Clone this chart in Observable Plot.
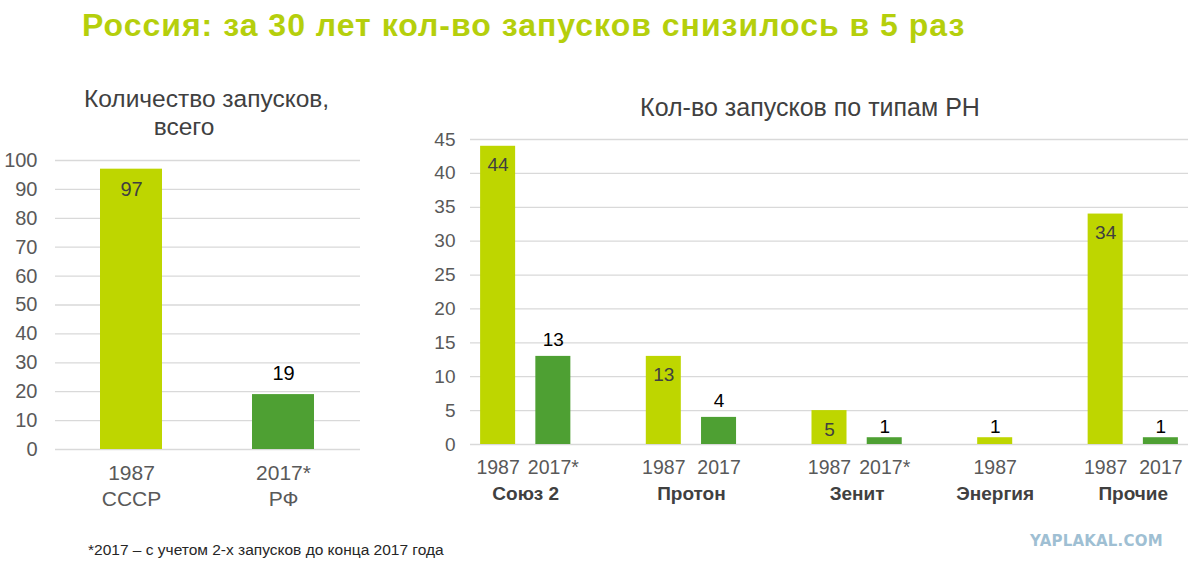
<!DOCTYPE html>
<html>
<head>
<meta charset="utf-8">
<script src="https://cdn.jsdelivr.net/npm/d3@7"></script>
<script src="https://cdn.jsdelivr.net/npm/@observablehq/plot@0.6"></script>
<style>
  html, body { margin: 0; padding: 0; background: #fff; }
  body { width: 1193px; height: 571px; position: relative; overflow: hidden; font-family: "Liberation Sans", Arial, sans-serif; }
  .abs { position: absolute; white-space: nowrap; }
  #title { left: 82px; top: 6px; font-size: 32px; font-weight: bold; color: #b5cf0c; letter-spacing: 1px; line-height: 38px; }
  #subL { left: 84px; top: 85px; width: 200px; text-align: center; font-size: 24.5px; line-height: 28px; color: #404040; }
  #subR { left: 610px; top: 92px; width: 400px; text-align: center; font-size: 25px; line-height: 30px; color: #404040; }
  #note { left: 88px; top: 541px; font-size: 15.5px; line-height: 18px; color: #262626; }
  #wm { left: 1030px; top: 532px; font-size: 15px; font-weight: bold; color: #9fbfd3; letter-spacing: 0.2px; line-height: 18px; font-family: "DejaVu Sans", sans-serif; }
  #left { left: 0px; top: 150px; }
  #right { left: 420px; top: 130px; }
</style>
</head>
<body>
<div id="title" class="abs">Россия: за 30 лет кол-во запусков снизилось в 5 раз</div>
<div id="subL" class="abs">Количество запусков,<br>всего</div>
<div id="subR" class="abs">Кол-во запусков по типам РН</div>
<div id="left" class="abs"></div>
<div id="right" class="abs"></div>
<div id="note" class="abs">*2017 – с учетом 2-х запусков до конца 2017 года</div>
<div id="wm" class="abs">YAPLAKAL.COM</div>
<script>
// ---- Data ----
const totalLabels = ["1987\nСССР", "2017*\nРФ"];
const totalLaunches = [97, 19];
const totalTicks = [0, 10, 20, 30, 40, 50, 60, 70, 80, 90, 100];

const rocketTypes = ["Союз 2", "Союз 2", "Протон", "Протон", "Зенит", "Зенит", "Энергия", "Прочие", "Прочие"];
const rocketYears = ["1987", "2017*", "1987", "2017", "1987", "2017*", "1987", "1987", "2017"];
const rocketLaunches = [44, 13, 13, 4, 5, 1, 1, 34, 1];
const typeTicks = [0, 5, 10, 15, 20, 25, 30, 35, 40, 45];

const lime = "#bed600";
const green = "#4ea033";
const font = "Liberation Sans, Arial, sans-serif";

// ---- Left chart ----
const totalData = totalLabels.map((label, i) => ({label, value: totalLaunches[i], old: i === 0}));
const left = Plot.plot({
  width: 380, height: 359,
  marginLeft: 55, marginRight: 20, marginTop: 10, marginBottom: 60,
  style: {fontFamily: font, color: "#595959", background: "transparent"},
  x: {domain: totalLabels, paddingInner: 0.59, paddingOuter: 0.295, axis: null},
  y: {domain: [0, 100], axis: null},
  marks: [
    Plot.gridY(totalTicks, {stroke: "#d9d9d9", strokeOpacity: 1, strokeWidth: 1.3}),
    Plot.axisY({ticks: totalTicks, tickSize: 0, tickPadding: 18, fontSize: 20, fill: "#595959", label: null}),
    Plot.barY(totalData, {x: "label", y: "value", fill: d => d.old ? lime : green}),
    Plot.text(totalData.filter(d => d.old), {x: "label", y: "value", text: d => String(d.value),
      fontSize: 20, dy: 20, fill: "#404040"}),
    Plot.text(totalData.filter(d => !d.old), {x: "label", y: "value", text: d => String(d.value),
      fontSize: 20, dy: -21, fill: "#000"}),
    Plot.axisX({tickSize: 0, tickPadding: 13, fontSize: 21, lineHeight: 1.2, fill: "#595959", label: null})
  ]
});
document.getElementById("left").appendChild(left);

// ---- Right chart ----
const typeData = [];
let slot = 0;
rocketTypes.forEach((t, i) => {
  if (i > 0 && t !== rocketTypes[i - 1]) slot += 1; // empty slot between groups
  typeData.push({type: t, year: rocketYears[i], value: rocketLaunches[i], slot, old: rocketYears[i] === "1987"});
  slot += 1;
});
const nSlots = slot;
const groupData = Array.from(d3.group(typeData, d => d.type), ([type, rows]) => ({type, pos: d3.mean(rows, r => r.slot)}));
const half = 0.317;
const inside = d => d.old && d.value >= 5;
const tiny = d => !inside(d) && d.value <= 1;

const right = Plot.plot({
  width: 773, height: 384,
  marginLeft: 50, marginRight: 5, marginTop: 9, marginBottom: 70,
  style: {fontFamily: font, color: "#595959", background: "transparent"},
  x: {domain: [-0.5, nSlots - 0.5], axis: null},
  y: {domain: [0, 45], axis: null},
  marks: [
    Plot.gridY(typeTicks, {stroke: "#d9d9d9", strokeOpacity: 1, strokeWidth: 1.3}),
    Plot.axisY({ticks: typeTicks, tickSize: 0, tickPadding: 15, fontSize: 19, fill: "#595959", label: null}),
    Plot.rect(typeData, {x1: d => d.slot - half, x2: d => d.slot + half, y1: 0, y2: "value",
      fill: d => d.old ? lime : green}),
    Plot.text(typeData.filter(inside), {x: "slot", y: "value", text: d => String(d.value),
      fontSize: 19, dy: 19, fill: "#404040"}),
    Plot.text(typeData.filter(d => !inside(d) && !tiny(d)), {x: "slot", y: "value", text: d => String(d.value),
      fontSize: 19, dy: -16, fill: "#000"}),
    Plot.text(typeData.filter(tiny), {x: "slot", y: "value", text: d => String(d.value),
      fontSize: 19, dy: -11, fill: "#000"}),
    Plot.text(typeData, {x: "slot", frameAnchor: "bottom", text: "year", lineAnchor: "top",
      dy: 16, fontSize: 19.5, fill: "#595959"}),
    Plot.text(groupData, {x: "pos", frameAnchor: "bottom", text: "type", lineAnchor: "top",
      dy: 42, fontSize: 19, fontWeight: "bold", fill: "#404040"})
  ]
});
document.getElementById("right").appendChild(right);
</script>
</body>
</html>
